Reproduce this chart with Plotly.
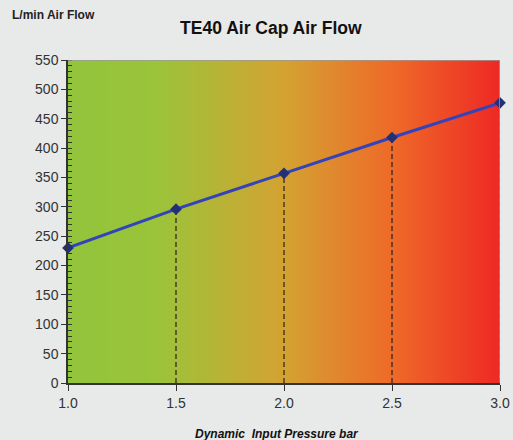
import numpy as np
import plotly.graph_objects as go

pressure = [1.0, 1.5, 2.0, 2.5, 3.0]
air_flow = [230, 296, 357, 418, 477]
y_ticks = [0, 50, 100, 150, 200, 250, 300, 350, 400, 450, 500, 550]
x_ticks = [1.0, 1.5, 2.0, 2.5, 3.0]
x_tick_labels = ["1.0", "1.5", "2.0", "2.5", "3.0"]

FONT = "Liberation Sans, Arial, sans-serif"

fig = go.Figure()

# gradient background
gx = np.linspace(1.0, 3.0, 200)
fig.add_trace(go.Heatmap(
    x=gx, y=[0, 550], z=[gx, gx],
    colorscale=[[0.0, "#92c43c"], [0.2, "#9ac43a"], [0.5, "#d4a232"],
                [0.75, "#ee6a28"], [1.0, "#ee2824"]],
    showscale=False, zsmooth="best", hoverinfo="skip"))

# drop lines
for xv, yv in zip(pressure[1:], air_flow[1:]):
    fig.add_trace(go.Scatter(x=[xv, xv], y=[0, yv], mode="lines",
                             line=dict(color="#2a2018", width=1.2, dash="5px,3px"),
                             showlegend=False, hoverinfo="skip"))

fig.add_trace(go.Scatter(
    x=pressure, y=air_flow, mode="lines+markers",
    line=dict(color="#3344bb", width=3),
    marker=dict(symbol="diamond", size=9, color="#22307a"),
    showlegend=False, cliponaxis=False))

fig.add_shape(type="line", xref="x", yref="y", x0=1.0, x1=3.0, y0=550, y1=550,
              line=dict(color="#9a9a9a", width=1.5), layer="above")
fig.add_shape(type="line", xref="x", yref="y", x0=3.0, x1=3.0, y0=0, y1=550,
              line=dict(color="#9a9a9a", width=1.5), layer="above")

fig.update_layout(
    width=513, height=440,
    margin=dict(l=68, r=13, t=60, b=57),
    paper_bgcolor="#e8e9e9", plot_bgcolor="#e8e9e9",
    font=dict(family=FONT, color="#333333", size=14),
    title=dict(text="<b>TE40 Air Cap Air Flow</b>", x=0.528, xanchor="center",
               y=0.936, yanchor="middle", font=dict(size=17.5, color="#111111")),
    showlegend=False,
    annotations=[
        dict(text="<b>L/min Air Flow</b>", xref="paper", yref="paper",
             x=-0.134, y=1.139, xanchor="left", yanchor="middle",
             showarrow=False, font=dict(size=12, color="#222222")),
        dict(text="<b><i>Dynamic  Input Pressure bar</i></b>", xref="paper", yref="paper",
             x=0.484, y=-0.158, xanchor="center", yanchor="middle",
             showarrow=False, font=dict(size=12, color="#111111")),
    ],
)

fig.update_xaxes(
    range=[1.0, 3.0], tickvals=x_ticks, ticktext=x_tick_labels, automargin=False,
    showgrid=False, zeroline=False, showline=True, linecolor="#333333", linewidth=1.5,
    ticks="outside", ticklen=6, tickcolor="#333333", tickfont=dict(size=14),
)
fig.update_yaxes(
    range=[0, 550], tickvals=y_ticks, automargin=False,
    showgrid=True, gridcolor="#2a2a1e", griddash="3px,1px", gridwidth=1.2,
    zeroline=False, showline=True, linecolor="#333333", linewidth=1.5,
    ticks="outside", ticklen=5, tickcolor="#333333", tickfont=dict(size=14),
    minor=dict(dtick=10, ticks="inside", ticklen=4, tickcolor="#333333", showgrid=False),
)

fig.write_html("out.html", post_script="document.body.style.margin='0';",
               config={"displayModeBar": False})
